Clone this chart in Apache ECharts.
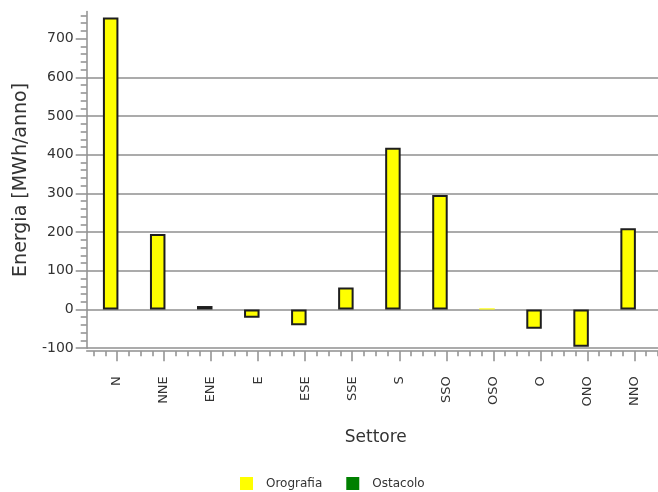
<!DOCTYPE html>
<html><head><meta charset="utf-8">
<script src="https://cdn.jsdelivr.net/npm/echarts@6/dist/echarts.min.js"></script>
<style>html,body{margin:0;padding:0;background:#fff}#c{width:658px;height:492px}</style>
</head><body><div id="c"></div>
<script>
const categories = ['N','NNE','ENE','E','ESE','SSE','S','SSO','OSO','O','ONO','NNO'];
const orografia = [755,195,9,-21,-41,57,418,296,3,-50,-96,210];
const ostacolo = [0,0,0,0,0,0,0,0,0,0,0,0];
const yTicks = [-100,0,100,200,300,400,500,600,700];
const seriesNames = ['Orografia','Ostacolo'];
const yMin = -100, yMax = 770;

const yMinor = [];
for (let v = yMin; v <= 760; v += 20) { if (v % 100 !== 0) yMinor.push(v); }
const quarterCats = [];
for (let i = 0; i < categories.length * 4; i++) quarterCats.push('');

const FONT = 'DejaVu Sans';
const GRAY = '#8f8f8f';
const TXT = '#333';

const chart = echarts.init(document.getElementById('c'), null, {renderer:'canvas'});
chart.setOption({
  animation: false,
  backgroundColor: '#fff',
  textStyle: {fontFamily: FONT},
  grid: [
    {left: 93.5, right: 0, top: 11.6, bottom: 143.8},
    {left: 86.7, right: 0, top: 11.6, bottom: 143.8}
  ],
  legend: {
    data: seriesNames,
    left: 235, top: 472,
    icon: 'rect', itemWidth: 13, itemHeight: 13, itemGap: 24,
    itemStyle: {borderWidth: 0},
    textStyle: {fontFamily: FONT, fontSize: 12, color: TXT, padding: [0,0,0,8]}
  },
  xAxis: [
    {
      gridIndex: 0, type: 'category', data: categories, position: 'bottom', offset: 3,
      axisLine: {show: false, onZero: false},
      axisTick: {show: true, alignWithLabel: true, length: 10, lineStyle: {color: GRAY, width: 1.5}},
      axisLabel: {rotate: 90, margin: 25, fontSize: 13, color: TXT, fontFamily: FONT},
      name: 'Settore', nameLocation: 'middle', nameGap: 78,
      nameTextStyle: {fontSize: 17, color: TXT, fontFamily: FONT}
    },
    {
      gridIndex: 0, type: 'category', data: quarterCats, position: 'bottom', offset: 3,
      axisLine: {show: false, onZero: false},
      axisTick: {show: true, interval: 0, length: 5, lineStyle: {color: GRAY, width: 1.5}},
      axisLabel: {show: false}
    },
    {
      gridIndex: 1, type: 'value', min: 0, max: 1, position: 'bottom', offset: 3,
      axisLine: {show: true, onZero: false, lineStyle: {color: GRAY, width: 1.5}},
      axisTick: {show: false}, axisLabel: {show: false}, splitLine: {show: false}
    }
  ],
  yAxis: [
    {gridIndex: 0, type: 'value', min: yMin, max: yMax, show: false, splitLine: {show: false}},
    {
      gridIndex: 1, type: 'value', min: yMin, max: yMax, interval: 100, position: 'left',
      axisLine: {show: true, onZero: false, lineStyle: {color: GRAY, width: 1.5}},
      axisTick: {show: true, length: 11, customValues: yTicks, lineStyle: {color: GRAY, width: 1.5}},
      axisLabel: {customValues: yTicks, fontSize: 14, color: TXT, margin: 13, fontFamily: FONT},
      splitLine: {show: true, showMaxLine: false, lineStyle: {color: GRAY, width: 1.5}},
      name: 'Energia [MWh/anno]', nameLocation: 'middle', nameGap: 56,
      nameTextStyle: {fontSize: 19, color: TXT, fontFamily: FONT}
    },
    {
      gridIndex: 1, type: 'value', min: yMin, max: yMax, position: 'left',
      axisLine: {show: false, onZero: false},
      axisTick: {show: true, length: 6, customValues: yMinor, lineStyle: {color: GRAY, width: 1.5}},
      axisLabel: {show: false}, splitLine: {show: false}
    }
  ],
  series: [
    {
      name: seriesNames[0], type: 'bar', xAxisIndex: 0, yAxisIndex: 0,
      data: orografia.map(v => Math.abs(v) < 5 ? {value: v, itemStyle: {borderWidth: 0}} : v),
      barWidth: 15.5, barGap: '-18%',
      itemStyle: {color: '#ffff00', borderColor: '#1e1e1e', borderWidth: 2}
    },
    {
      name: seriesNames[1], type: 'bar', xAxisIndex: 0, yAxisIndex: 0,
      data: ostacolo, barWidth: 15.5,
      itemStyle: {color: '#008000', borderWidth: 0}
    }
  ]
});
</script></body></html>
